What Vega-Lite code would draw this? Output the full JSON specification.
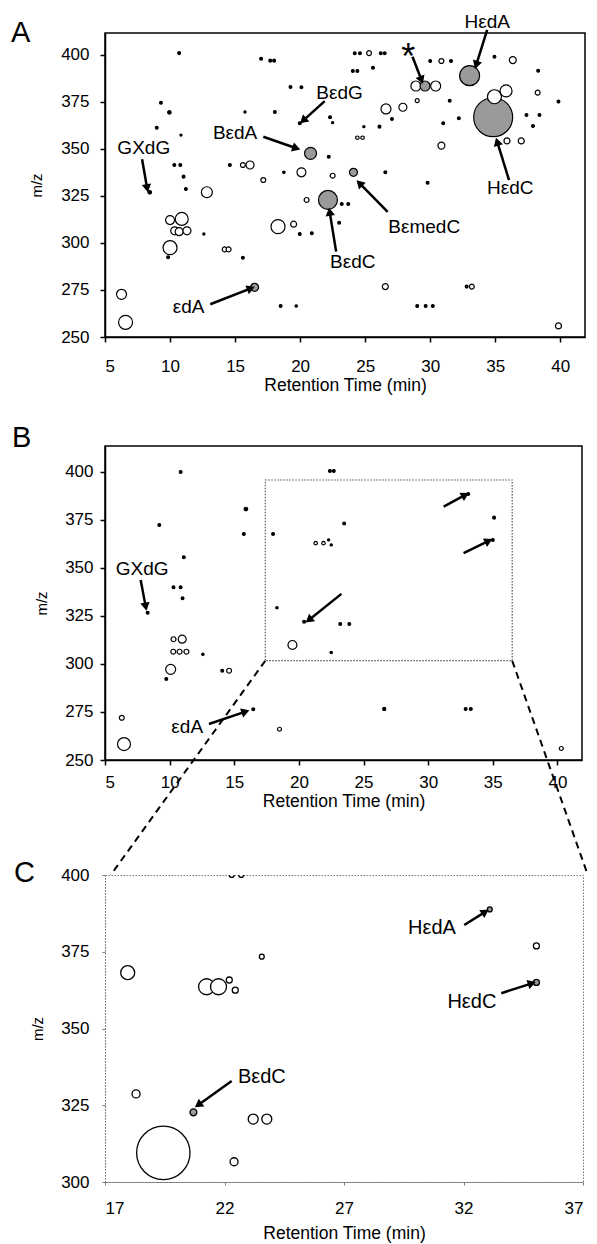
{
"$schema":"https://vega.github.io/schema/vega-lite/v6.json",
"padding":{"left":10,"top":11,"right":5,"bottom":5},
"bounds":"flush",
"spacing":109,
"config":{"font":"Liberation Sans","view":{"stroke":null},
"axis":{"grid":false,"labelColor":"black","titleColor":"black","tickColor":"black","domainColor":"black","labelFontSize":17,"titleFontSize":17.5,"titleFontWeight":"normal","labelFont":"Liberation Sans","titleFont":"Liberation Sans"},
"text":{"color":"black","font":"Liberation Sans"}},
"datasets":{
"peaksA":[
{"rt":10.7,"mz":401,"kind":"dot","intensity":2},{"rt":17.0,"mz":398,"kind":"dot","intensity":2},{"rt":17.7,"mz":397,"kind":"dot","intensity":2},{"rt":18.0,"mz":397,"kind":"dot","intensity":2},{"rt":19.26,"mz":383,"kind":"dot","intensity":2},{"rt":20.1,"mz":382.8,"kind":"dot","intensity":2},{"rt":9.3,"mz":374.6,"kind":"dot","intensity":2},{"rt":9.95,"mz":369.5,"kind":"dot","intensity":3},{"rt":15.76,"mz":369.7,"kind":"dot","intensity":1.2},{"rt":18.06,"mz":369.7,"kind":"dot","intensity":2},{"rt":8.98,"mz":361.3,"kind":"dot","intensity":2},{"rt":10.84,"mz":357.4,"kind":"dot","intensity":1.2},{"rt":10.33,"mz":341.5,"kind":"dot","intensity":2},{"rt":10.79,"mz":341.5,"kind":"dot","intensity":2},{"rt":11.04,"mz":335.3,"kind":"dot","intensity":2},{"rt":11.22,"mz":328.7,"kind":"dot","intensity":2},{"rt":8.44,"mz":327,"kind":"dot","intensity":3},{"rt":14.6,"mz":341.5,"kind":"dot","intensity":2},{"rt":18.75,"mz":337.6,"kind":"dot","intensity":1.5},{"rt":12.6,"mz":304.8,"kind":"dot","intensity":1.2},{"rt":9.85,"mz":292.4,"kind":"dot","intensity":2},{"rt":15.6,"mz":292.2,"kind":"dot","intensity":2},{"rt":18.5,"mz":266.5,"kind":"dot","intensity":2},{"rt":19.7,"mz":266.5,"kind":"dot","intensity":1.5},{"rt":29.0,"mz":266.5,"kind":"dot","intensity":2},{"rt":29.65,"mz":266.5,"kind":"dot","intensity":2},{"rt":30.2,"mz":266.5,"kind":"dot","intensity":2},{"rt":24.2,"mz":400.9,"kind":"dot","intensity":2},{"rt":24.6,"mz":400.9,"kind":"dot","intensity":2},{"rt":26.2,"mz":400.9,"kind":"dot","intensity":2},{"rt":26.5,"mz":400.9,"kind":"dot","intensity":2},{"rt":24.05,"mz":391.5,"kind":"dot","intensity":2},{"rt":24.4,"mz":391.5,"kind":"dot","intensity":2},{"rt":25.6,"mz":393.2,"kind":"dot","intensity":2},{"rt":22.3,"mz":366.9,"kind":"dot","intensity":2},{"rt":22.5,"mz":364,"kind":"dot","intensity":1.2},{"rt":31.5,"mz":375.7,"kind":"dot","intensity":2},{"rt":27.06,"mz":366,"kind":"dot","intensity":2},{"rt":31.0,"mz":363.7,"kind":"dot","intensity":2},{"rt":32.2,"mz":366.3,"kind":"dot","intensity":2},{"rt":24.9,"mz":361.9,"kind":"dot","intensity":1.2},{"rt":26.1,"mz":361.9,"kind":"dot","intensity":2},{"rt":22.2,"mz":345.9,"kind":"dot","intensity":2},{"rt":26.55,"mz":337.6,"kind":"dot","intensity":2},{"rt":29.8,"mz":332,"kind":"dot","intensity":2},{"rt":23.2,"mz":320.7,"kind":"dot","intensity":2},{"rt":23.7,"mz":320.7,"kind":"dot","intensity":2},{"rt":23.0,"mz":310.8,"kind":"dot","intensity":2},{"rt":19.97,"mz":304.8,"kind":"dot","intensity":2},{"rt":20.9,"mz":305.2,"kind":"dot","intensity":2},{"rt":34.94,"mz":399.1,"kind":"dot","intensity":2},{"rt":38.3,"mz":391.6,"kind":"dot","intensity":2},{"rt":39.86,"mz":375.2,"kind":"dot","intensity":2},{"rt":37.4,"mz":368.1,"kind":"dot","intensity":2},{"rt":38.4,"mz":368.1,"kind":"dot","intensity":2},{"rt":37.9,"mz":362.2,"kind":"dot","intensity":2},{"rt":30.0,"mz":396.8,"kind":"dot","intensity":2},{"rt":31.6,"mz":396.8,"kind":"dot","intensity":2},{"rt":19.97,"mz":363.7,"kind":"dot","intensity":2},{"rt":32.8,"mz":276.8,"kind":"dot","intensity":2},
{"rt":12.83,"mz":327,"kind":"open","intensity":30},{"rt":15.6,"mz":341.5,"kind":"open","intensity":6},{"rt":16.15,"mz":341.5,"kind":"open","intensity":16},{"rt":17.17,"mz":333.5,"kind":"open","intensity":6},{"rt":20.1,"mz":337.6,"kind":"open","intensity":20},{"rt":30.86,"mz":396.8,"kind":"open","intensity":6},{"rt":25.3,"mz":401,"kind":"open","intensity":6},{"rt":36.35,"mz":397.3,"kind":"open","intensity":12},{"rt":34.94,"mz":377.8,"kind":"open","intensity":49},{"rt":35.83,"mz":380.9,"kind":"open","intensity":36},{"rt":38.26,"mz":380,"kind":"open","intensity":6},{"rt":35.9,"mz":354.3,"kind":"open","intensity":9},{"rt":37.0,"mz":354.3,"kind":"open","intensity":9},{"rt":28.9,"mz":383.5,"kind":"open","intensity":25},{"rt":30.42,"mz":383.5,"kind":"open","intensity":25},{"rt":26.6,"mz":371.3,"kind":"open","intensity":25},{"rt":27.9,"mz":372.2,"kind":"open","intensity":16},{"rt":29.0,"mz":375.7,"kind":"open","intensity":4},{"rt":24.4,"mz":356,"kind":"open","intensity":3},{"rt":24.8,"mz":356,"kind":"open","intensity":3},{"rt":30.86,"mz":351.8,"kind":"open","intensity":12},{"rt":22.5,"mz":335.8,"kind":"open","intensity":6},{"rt":20.5,"mz":322.9,"kind":"open","intensity":6},{"rt":19.5,"mz":310,"kind":"open","intensity":9},{"rt":18.3,"mz":308.7,"kind":"open","intensity":49},{"rt":26.55,"mz":276.8,"kind":"open","intensity":9},{"rt":33.2,"mz":276.8,"kind":"open","intensity":6},{"rt":39.86,"mz":255.9,"kind":"open","intensity":9},{"rt":10.0,"mz":312.2,"kind":"open","intensity":20},{"rt":10.9,"mz":312.8,"kind":"open","intensity":42},{"rt":10.36,"mz":306.5,"kind":"open","intensity":16},{"rt":10.7,"mz":306,"kind":"open","intensity":16},{"rt":11.3,"mz":306.5,"kind":"open","intensity":16},{"rt":10.0,"mz":297.5,"kind":"open","intensity":49},{"rt":14.2,"mz":296.6,"kind":"open","intensity":6},{"rt":14.5,"mz":296.6,"kind":"open","intensity":6},{"rt":6.27,"mz":272.7,"kind":"open","intensity":25},{"rt":6.58,"mz":257.8,"kind":"open","intensity":49},
{"rt":33.03,"mz":389,"kind":"adduct","intensity":100},{"rt":34.84,"mz":366.9,"kind":"adduct","intensity":380},{"rt":29.6,"mz":383.5,"kind":"adduct","intensity":25},{"rt":20.8,"mz":347.7,"kind":"adduct","intensity":36},{"rt":24.1,"mz":337.6,"kind":"adduct","intensity":16},{"rt":22.14,"mz":322.9,"kind":"adduct","intensity":90},{"rt":16.5,"mz":276.4,"kind":"adduct","intensity":16}
],
"peaksB":[
{"rt":10.85,"mz":400,"kind":"dot","intensity":2},{"rt":9.2,"mz":372.4,"kind":"dot","intensity":2},{"rt":15.9,"mz":380.7,"kind":"dot","intensity":3},{"rt":15.74,"mz":367.7,"kind":"dot","intensity":2},{"rt":18.0,"mz":367.7,"kind":"dot","intensity":2},{"rt":11.1,"mz":355.6,"kind":"dot","intensity":2},{"rt":10.3,"mz":340,"kind":"dot","intensity":2},{"rt":10.85,"mz":340,"kind":"dot","intensity":2},{"rt":11.0,"mz":334.2,"kind":"dot","intensity":2},{"rt":8.3,"mz":326.7,"kind":"dot","intensity":2},{"rt":18.3,"mz":329.3,"kind":"dot","intensity":1.5},{"rt":22.4,"mz":400.5,"kind":"dot","intensity":2},{"rt":22.7,"mz":400.5,"kind":"dot","intensity":2},{"rt":33.1,"mz":388.5,"kind":"dot","intensity":2},{"rt":35.1,"mz":376.2,"kind":"dot","intensity":2},{"rt":35.0,"mz":364.6,"kind":"dot","intensity":2},{"rt":23.5,"mz":373.2,"kind":"dot","intensity":2},{"rt":22.3,"mz":364.6,"kind":"dot","intensity":1.2},{"rt":22.5,"mz":362,"kind":"dot","intensity":1.2},{"rt":20.4,"mz":322,"kind":"dot","intensity":2},{"rt":23.2,"mz":320.8,"kind":"dot","intensity":2},{"rt":23.9,"mz":320.8,"kind":"dot","intensity":2},{"rt":12.57,"mz":305,"kind":"dot","intensity":1.5},{"rt":9.74,"mz":292.2,"kind":"dot","intensity":2},{"rt":14.07,"mz":296.5,"kind":"dot","intensity":2},{"rt":16.47,"mz":276.4,"kind":"dot","intensity":2},{"rt":22.5,"mz":306,"kind":"dot","intensity":1.5},{"rt":26.6,"mz":276.6,"kind":"dot","intensity":2.5},{"rt":32.9,"mz":276.6,"kind":"dot","intensity":2},{"rt":33.3,"mz":276.6,"kind":"dot","intensity":2},
{"rt":21.3,"mz":362.9,"kind":"open","intensity":3},{"rt":21.9,"mz":362.9,"kind":"open","intensity":3},{"rt":10.3,"mz":312.9,"kind":"open","intensity":6},{"rt":10.97,"mz":312.9,"kind":"open","intensity":16},{"rt":10.28,"mz":306.4,"kind":"open","intensity":6},{"rt":10.77,"mz":306.4,"kind":"open","intensity":6},{"rt":11.3,"mz":306.4,"kind":"open","intensity":6},{"rt":10.08,"mz":297.2,"kind":"open","intensity":25},{"rt":14.6,"mz":296.5,"kind":"open","intensity":6},{"rt":18.5,"mz":266,"kind":"open","intensity":4},{"rt":19.5,"mz":309.9,"kind":"open","intensity":20},{"rt":6.3,"mz":272,"kind":"open","intensity":6},{"rt":6.47,"mz":258.3,"kind":"open","intensity":42},{"rt":40.3,"mz":256,"kind":"open","intensity":4}
],
"peaksC":[
{"rt":22.3,"mz":400,"kind":"open","intensity":6},{"rt":22.7,"mz":400,"kind":"open","intensity":6},{"rt":17.95,"mz":368.2,"kind":"open","intensity":49},{"rt":21.25,"mz":363.6,"kind":"open","intensity":64},{"rt":21.75,"mz":363.6,"kind":"open","intensity":64},{"rt":22.2,"mz":365.8,"kind":"open","intensity":9},{"rt":22.45,"mz":362.5,"kind":"open","intensity":9},{"rt":23.56,"mz":373.4,"kind":"open","intensity":6},{"rt":35.05,"mz":376.9,"kind":"open","intensity":9},{"rt":18.3,"mz":328.7,"kind":"open","intensity":16},{"rt":23.2,"mz":320.5,"kind":"open","intensity":25},{"rt":23.77,"mz":320.5,"kind":"open","intensity":25},{"rt":22.4,"mz":306.6,"kind":"open","intensity":16},{"rt":19.44,"mz":309.5,"kind":"open","intensity":713},
{"rt":33.1,"mz":388.8,"kind":"adduct","intensity":6},{"rt":35.05,"mz":365,"kind":"adduct","intensity":9},{"rt":20.7,"mz":322.7,"kind":"adduct","intensity":12}
],
"notesA":[
{"label":"GXdG","tx":7.98,"ty":350.4,"x1":7.85,"y1":344.5,"x2":8.24,"y2":329.1},
{"label":"BεdA","tx":15.0,"ty":358.4,"x1":17.17,"y1":356.5,"x2":19.71,"y2":350.4},
{"label":"BεdG","tx":23.03,"ty":379.6,"x1":21.89,"y1":375.5,"x2":20.23,"y2":365.1},
{"label":"HεdA","tx":34.38,"ty":417.7,"x1":34.38,"y1":413.3,"x2":33.54,"y2":394.7},
{"label":"HεdC","tx":36.16,"ty":329.1,"x1":36.06,"y1":333.5,"x2":35.15,"y2":353.9},
{"label":"BεmedC","tx":29.54,"ty":308.7,"x1":26.73,"y1":316.6,"x2":24.56,"y2":331.8},
{"label":"BεdC","tx":24.05,"ty":290.1,"x1":22.77,"y1":295.4,"x2":22.27,"y2":316.6},
{"label":"εdA","tx":11.43,"ty":266.1,"x1":13.09,"y1":267.4,"x2":16.22,"y2":275.9},
{"label":"","tx":28.31,"ty":398.5,"x1":28.64,"y1":399.1,"x2":29.33,"y2":386.7}
],
"starA":[{"label":"*","tx":28.31,"ty":398.5}],
"notesB":[
{"label":"GXdG","tx":7.88,"ty":349.5,"x1":7.76,"y1":343.75,"x2":8.15,"y2":329.8},
{"label":"εdA","tx":11.36,"ty":267,"x1":13.04,"y1":268.75,"x2":15.87,"y2":275.2},
{"label":"","tx":31.2,"ty":381.9,"x1":31.2,"y1":381.9,"x2":32.87,"y2":388},
{"label":"","tx":32.74,"ty":357.7,"x1":32.74,"y1":357.7,"x2":34.68,"y2":364.1},
{"label":"","tx":23.29,"ty":336.5,"x1":23.29,"y1":336.5,"x2":20.77,"y2":322.9}
],
"zoomBox":[{"rt1":17.4,"rt2":36.5,"mz1":301.7,"mz2":395.8}],
"connectors":[{"x1":17.4,"y1":301.7,"x2":5.44,"y2":190.1},{"x1":36.5,"y1":301.7,"x2":42.35,"y2":190.1}],
"notesC":[
{"label":"HεdA","tx":30.68,"ty":382.6,"x1":32.03,"y1":383.7,"x2":32.91,"y2":388.0},
{"label":"HεdC","tx":32.35,"ty":358.7,"x1":33.58,"y1":361.5,"x2":34.86,"y2":364.7},
{"label":"BεdC","tx":23.56,"ty":334.3,"x1":22.3,"y1":332.9,"x2":20.9,"y2":325.1}
]
},
"vconcat":[
{
"width":480,"height":304,
"title":{"text":"A","anchor":"start","frame":"group","fontSize":29,"fontWeight":"normal","baseline":"alphabetic","offset":0,"dx":-94,"dy":58,"color":"black"},
"view":{"stroke":"black","strokeWidth":1.5},
"layer":[
{"data":{"name":"peaksA"},
"mark":{"type":"point","shape":"circle","filled":true,"stroke":"black","strokeWidth":1.2,"opacity":1},
"encoding":{
"x":{"field":"rt","type":"quantitative","scale":{"domain":[5,41.9],"nice":false,"zero":false},"axis":{"values":[5,10,15,20,25,30,35,40],"title":"Retention Time (min)","tickSize":5,"tickWidth":1.5,"domainWidth":1.5,"labelPadding":16,"titlePadding":2,"format":"d"}},
"y":{"field":"mz","type":"quantitative","scale":{"domain":[250,411.7],"nice":false,"zero":false},"axis":{"values":[250,275,300,325,350,375,400],"title":"m/z","titleFontSize":15,"tickSize":5,"tickWidth":1.5,"domainWidth":1.5,"labelPadding":11,"titlePadding":16}},
"size":{"field":"intensity","type":"quantitative","scale":{"type":"linear","domain":[0,100],"range":[0,400]},"legend":null},
"fill":{"field":"kind","type":"nominal","scale":{"domain":["open","dot","adduct"],"range":["white","black","#9a9a9a"]},"legend":null},
"order":{"field":"intensity","sort":"descending"}}},
{"data":{"name":"notesA"},"mark":{"type":"rule","strokeWidth":2.5,"color":"black"},
"encoding":{"x":{"field":"x1","type":"quantitative"},"y":{"field":"y1","type":"quantitative"},"x2":{"field":"x2"},"y2":{"field":"y2"}}},
{"data":{"name":"notesA"},"transform":[{"calculate":"atan2((datum.x2-datum.x1)*13.07,(datum.y2-datum.y1)*1.88)*180/PI","as":"angle"}],
"mark":{"type":"point","shape":"triangle-up","filled":true,"color":"black","size":90,"opacity":1},
"encoding":{"x":{"field":"x2","type":"quantitative"},"y":{"field":"y2","type":"quantitative"},"angle":{"field":"angle","type":"quantitative","scale":null}}},
{"data":{"name":"notesA"},"mark":{"type":"text","fontSize":19,"align":"center","baseline":"middle"},
"encoding":{"x":{"field":"tx","type":"quantitative"},"y":{"field":"ty","type":"quantitative"},"text":{"field":"label"}}},
{"data":{"name":"starA"},"mark":{"type":"text","fontSize":36,"align":"center","baseline":"middle"},
"encoding":{"x":{"field":"tx","type":"quantitative"},"y":{"field":"ty","type":"quantitative"},"text":{"field":"label"}}}
]
},
{
"bounds":"flush",
"spacing":115,
"vconcat":[
{
"width":477,"height":314,
"title":{"text":"B","anchor":"start","frame":"group","fontSize":29,"fontWeight":"normal","baseline":"alphabetic","offset":0,"dx":-93,"dy":30,"color":"black"},
"view":{"stroke":"black","strokeWidth":1.5},
"layer":[
{"data":{"name":"peaksB"},
"mark":{"type":"point","shape":"circle","filled":true,"stroke":"black","strokeWidth":1.2,"opacity":1},
"encoding":{
"x":{"field":"rt","type":"quantitative","scale":{"domain":[5,41.9],"nice":false,"zero":false},"axis":{"values":[5,10,15,20,25,30,35,40],"title":"Retention Time (min)","tickSize":5,"tickWidth":1.5,"domainWidth":1.5,"labelPadding":9,"titlePadding":2,"format":"d"}},
"y":{"field":"mz","type":"quantitative","scale":{"domain":[250,413.5],"nice":false,"zero":false},"axis":{"values":[250,275,300,325,350,375,400],"title":"m/z","titleFontSize":15,"tickSize":5,"tickWidth":1.5,"domainWidth":1.5,"labelPadding":7,"titlePadding":15}},
"size":{"field":"intensity","type":"quantitative","scale":{"type":"linear","domain":[0,100],"range":[0,400]},"legend":null},
"fill":{"field":"kind","type":"nominal","scale":{"domain":["open","dot","adduct"],"range":["white","black","#9a9a9a"]},"legend":null},
"order":{"field":"intensity","sort":"descending"}}},
{"data":{"name":"zoomBox"},"mark":{"type":"rect","fill":"transparent","stroke":"#555","strokeWidth":1.2,"strokeDash":[1.5,1.5]},
"encoding":{"x":{"field":"rt1","type":"quantitative"},"x2":{"field":"rt2"},"y":{"field":"mz1","type":"quantitative"},"y2":{"field":"mz2"}}},
{"data":{"name":"connectors"},"mark":{"type":"rule","strokeWidth":2,"color":"black","strokeDash":[7,5]},
"encoding":{"x":{"field":"x1","type":"quantitative"},"y":{"field":"y1","type":"quantitative"},"x2":{"field":"x2"},"y2":{"field":"y2"}}},
{"data":{"name":"notesB"},"mark":{"type":"rule","strokeWidth":2.5,"color":"black"},
"encoding":{"x":{"field":"x1","type":"quantitative"},"y":{"field":"y1","type":"quantitative"},"x2":{"field":"x2"},"y2":{"field":"y2"}}},
{"data":{"name":"notesB"},"transform":[{"calculate":"atan2((datum.x2-datum.x1)*12.94,(datum.y2-datum.y1)*1.92)*180/PI","as":"angle"}],
"mark":{"type":"point","shape":"triangle-up","filled":true,"color":"black","size":90,"opacity":1},
"encoding":{"x":{"field":"x2","type":"quantitative"},"y":{"field":"y2","type":"quantitative"},"angle":{"field":"angle","type":"quantitative","scale":null}}},
{"data":{"name":"notesB"},"mark":{"type":"text","fontSize":19,"align":"center","baseline":"middle"},
"encoding":{"x":{"field":"tx","type":"quantitative"},"y":{"field":"ty","type":"quantitative"},"text":{"field":"label"}}}
]
},
{
"width":478,"height":307,
"title":{"text":"C","anchor":"start","frame":"group","fontSize":29,"fontWeight":"normal","baseline":"alphabetic","offset":0,"dx":-91,"dy":45,"color":"black"},
"view":{"stroke":"#777","strokeWidth":1,"strokeDash":[1.5,1.5]},
"layer":[
{"data":{"name":"peaksC"},
"mark":{"type":"point","shape":"circle","filled":true,"stroke":"black","strokeWidth":1.3,"opacity":1,"clip":true},
"encoding":{
"x":{"field":"rt","type":"quantitative","scale":{"domain":[17,37],"nice":false,"zero":false},"axis":{"values":[17,22,27,32,37],"title":"Retention Time (min)","tickSize":3,"tickColor":"#777","domainColor":"#777","domainDash":[1.5,1.5],"labelPadding":15,"titlePadding":8,"format":"d"}},
"y":{"field":"mz","type":"quantitative","scale":{"domain":[300,400],"nice":false,"zero":false},"axis":{"values":[300,325,350,375,400],"title":"m/z","titleFontSize":15,"tickSize":3,"tickColor":"#777","domainColor":"#777","domainDash":[1.5,1.5],"labelPadding":13,"titlePadding":15}},
"size":{"field":"intensity","type":"quantitative","scale":{"type":"linear","domain":[0,100],"range":[0,400]},"legend":null},
"fill":{"field":"kind","type":"nominal","scale":{"domain":["open","dot","adduct"],"range":["white","black","#9a9a9a"]},"legend":null},
"order":{"field":"intensity","sort":"descending"}}},
{"data":{"name":"notesC"},"mark":{"type":"rule","strokeWidth":2.5,"color":"black"},
"encoding":{"x":{"field":"x1","type":"quantitative"},"y":{"field":"y1","type":"quantitative"},"x2":{"field":"x2"},"y2":{"field":"y2"}}},
{"data":{"name":"notesC"},"transform":[{"calculate":"atan2((datum.x2-datum.x1)*23.88,(datum.y2-datum.y1)*3.07)*180/PI","as":"angle"}],
"mark":{"type":"point","shape":"triangle-up","filled":true,"color":"black","size":90,"opacity":1},
"encoding":{"x":{"field":"x2","type":"quantitative"},"y":{"field":"y2","type":"quantitative"},"angle":{"field":"angle","type":"quantitative","scale":null}}},
{"data":{"name":"notesC"},"mark":{"type":"text","fontSize":20,"align":"center","baseline":"middle"},
"encoding":{"x":{"field":"tx","type":"quantitative"},"y":{"field":"ty","type":"quantitative"},"text":{"field":"label"}}}
]
}
]
}
]
}
